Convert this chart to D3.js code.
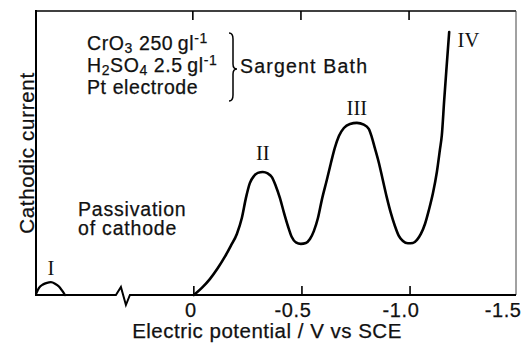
<!DOCTYPE html>
<html>
<head>
<meta charset="utf-8">
<script src="https://cdn.jsdelivr.net/npm/d3@7"></script>
<style>
  html, body { margin: 0; padding: 0; background: #fff; }
  svg { display: block; }
  .sans { font-family: "Liberation Sans", Arial, Helvetica, sans-serif; fill: #111; stroke: #111; stroke-width: 0.25px; }
  .serif { font-family: "Liberation Serif", "Times New Roman", serif; fill: #111; }
</style>
</head>
<body>
<svg id="chart" width="525" height="345"></svg>
<script>
// Cathodic polarization curve, Sargent chromium bath (potential in V vs SCE, current in arbitrary units)
const mainPotential = [0, -0.037, -0.074, -0.111, -0.143, -0.171, -0.199, -0.222, -0.241, -0.259,
  -0.278, -0.296, -0.319, -0.342, -0.361, -0.379, -0.398, -0.416, -0.435, -0.453,
  -0.472, -0.495, -0.518, -0.537, -0.555, -0.574, -0.592, -0.615, -0.634, -0.652,
  -0.671, -0.694, -0.722, -0.754, -0.786, -0.809, -0.823, -0.837, -0.856, -0.874,
  -0.893, -0.911, -0.930, -0.948, -0.967, -0.990, -1.013, -1.032, -1.050, -1.069,
  -1.087, -1.106, -1.124, -1.138, -1.147, -1.158, -1.169, -1.181];
const mainCurrent = [0, 2.5, 5.6, 9.5, 13.4, 17.3, 21.5, 27.1, 34.2, 39.4,
  41.9, 43.0, 43.3, 42.8, 41.5, 38.4, 34.2, 29.2, 24.3, 20.4,
  18.5, 18.0, 18.3, 19.7, 22.5, 27.1, 33.5, 40.5, 46.5, 51.8,
  56.0, 58.8, 60.2, 60.6, 60.0, 58.5, 55.6, 51.8, 46.5, 40.5,
  34.2, 28.9, 24.3, 20.8, 19.0, 18.2, 18.3, 19.4, 21.5, 25.0,
  29.9, 35.9, 43.3, 51.1, 56.3, 68.7, 80.3, 92.6];

// Small wave I at the far (positive) end, left of the axis break
const wavePotential = [0.728, 0.716, 0.698, 0.679, 0.661, 0.642, 0.624, 0.610, 0.596];
const waveCurrent = [0.7, 2.5, 3.7, 4.3, 4.5, 4.0, 3.0, 1.6, 0];

const tickValues = [0, -0.5, -1.0, -1.5];
const tickLabels = ["0", "-0.5", "-1.0", "-1.5"];
const breakPotential = 0.328;

// Roman-numeral wave labels: [text, potential, current]
const waveLabels = [
  ["I", 0.661, 7.0],
  ["II", -0.319, 47.5],
  ["III", -0.754, 63.5],
  ["IV", -1.22, 87.5]
];

// Bath composition lines: [text, kind] runs
const noteLines = [
  [["CrO"], ["3", "sub"], [" 250"], ["\u2009gl"], ["-1", "sup"]],
  [["H"], ["2", "sub"], ["SO"], ["4", "sub"], [" 2.5"], ["\u2009gl"], ["-1", "sup"]],
  [["Pt electrode"]]
];

const svg = d3.select("#chart");
const plot = { left: 36, right: 516, top: 11, bottom: 295 };

const x = d3.scaleLinear().domain([0.73, -1.49]).range([plot.left, plot.right]);
const y = d3.scaleLinear().domain([0, 100]).range([plot.bottom, plot.top]);

// Frame: heavy left and bottom axes, lighter top and right borders
svg.append("line").attr("x1", plot.left).attr("x2", plot.left)
  .attr("y1", plot.top - 1).attr("y2", plot.bottom + 1)
  .attr("stroke", "#000").attr("stroke-width", 2);
svg.append("line").attr("x1", plot.left).attr("x2", plot.right)
  .attr("y1", plot.top).attr("y2", plot.top)
  .attr("stroke", "#000").attr("stroke-width", 1.5);
svg.append("line").attr("x1", plot.right).attr("x2", plot.right)
  .attr("y1", plot.top).attr("y2", plot.bottom)
  .attr("stroke", "#444").attr("stroke-width", 1);

// Bottom axis line with a zig-zag break
const bx = x(breakPotential);
svg.append("path")
  .attr("d", `M${plot.left},${plot.bottom} L${bx - 7},${plot.bottom} L${bx - 2},${plot.bottom - 8} L${bx + 3},${plot.bottom + 10} L${bx + 7},${plot.bottom} L${plot.right},${plot.bottom}`)
  .attr("fill", "none").attr("stroke", "#000").attr("stroke-width", 2)
  .attr("stroke-linejoin", "miter");

// Inward ticks on bottom and top
const inner = tickValues.filter(v => x(v) < plot.right - 2);
svg.append("g").selectAll("line").data(inner).join("line")
  .attr("x1", d => x(d)).attr("x2", d => x(d))
  .attr("y1", plot.bottom).attr("y2", plot.bottom - 9)
  .attr("stroke", "#000").attr("stroke-width", 1.6);
svg.append("g").selectAll("line").data(inner).join("line")
  .attr("x1", d => x(d) - 1).attr("x2", d => x(d) - 1)
  .attr("y1", plot.top).attr("y2", plot.top + 9)
  .attr("stroke", "#000").attr("stroke-width", 1.6);

// Tick labels (the last one is pulled in so it stays inside the page)
svg.append("g").selectAll("text").data(tickValues).join("text")
  .attr("class", "sans")
  .attr("x", (d, i) => x(d) + (i === 0 ? -3 : i === tickValues.length - 1 ? -15 : -9))
  .attr("y", 317)
  .attr("text-anchor", "middle")
  .attr("font-size", 20)
  .attr("letter-spacing", 0.6)
  .text((d, i) => tickLabels[i]);

// Axis titles
svg.append("text").attr("class", "sans")
  .attr("x", 267).attr("y", 338)
  .attr("text-anchor", "middle").attr("font-size", 20.5).attr("letter-spacing", 0.5)
  .text("Electric potential / V vs SCE");
svg.append("text").attr("class", "sans")
  .attr("transform", `translate(34,${(plot.top + plot.bottom) / 2}) rotate(-90)`)
  .attr("text-anchor", "middle").attr("font-size", 20.5).attr("letter-spacing", 0.7)
  .text("Cathodic current");

// Curves
const line = d3.line().x(d => x(d[0])).y(d => y(d[1])).curve(d3.curveMonotoneX);
svg.append("path")
  .datum(mainPotential.map((v, i) => [v, mainCurrent[i]]))
  .attr("d", line).attr("fill", "none").attr("stroke", "#000").attr("stroke-width", 2.6)
  .attr("stroke-linecap", "round").attr("stroke-linejoin", "round");
svg.append("path")
  .datum(wavePotential.map((v, i) => [v, waveCurrent[i]]))
  .attr("d", line).attr("fill", "none").attr("stroke", "#000").attr("stroke-width", 2.3)
  .attr("stroke-linecap", "round");

// Wave labels
svg.append("g").selectAll("text").data(waveLabels).join("text")
  .attr("class", "serif")
  .attr("x", d => x(d[1])).attr("y", d => y(d[2]))
  .attr("text-anchor", d => d[0] === "IV" ? "start" : "middle")
  .attr("font-size", 20.5)
  .text(d => d[0]);

// Bath composition note, one text block with a tspan run per piece
const note = svg.append("text").attr("class", "sans")
  .attr("font-size", 19.5).attr("letter-spacing", 0.6);
noteLines.forEach((parts, li) => {
  parts.forEach(([s, kind], pi) => {
    const ts = note.append("tspan").text(s);
    if (pi === 0) ts.attr("x", 87).attr("y", 50 + li * 22);
    if (kind === "sub") ts.attr("font-size", 14).attr("baseline-shift", "-3px");
    if (kind === "sup") ts.attr("font-size", 14).attr("baseline-shift", "7px");
  });
});

// Brace grouping the three lines
const bxl = 229, bxr = 237, byT = 33, byM = 69, byB = 101;
svg.append("path")
  .attr("d", `M${bxl},${byT} Q${bxl + 4},${byT} ${bxl + 4},${byT + 6} L${bxl + 4},${byM - 5} Q${bxl + 4},${byM} ${bxr},${byM} Q${bxl + 4},${byM} ${bxl + 4},${byM + 5} L${bxl + 4},${byB - 6} Q${bxl + 4},${byB} ${bxl},${byB}`)
  .attr("fill", "none").attr("stroke", "#000").attr("stroke-width", 1.5);
svg.append("text").attr("class", "sans")
  .attr("x", 240).attr("y", 73).attr("font-size", 19.5).attr("letter-spacing", 1.2)
  .text("Sargent Bath");

// Passivation note
const pas = svg.append("text").attr("class", "sans").attr("font-size", 19.5).attr("letter-spacing", 0.8);
pas.append("tspan").attr("x", 78).attr("y", 216).text("Passivation");
pas.append("tspan").attr("x", 78).attr("y", 235).text("of cathode");
</script>
</body>
</html>
